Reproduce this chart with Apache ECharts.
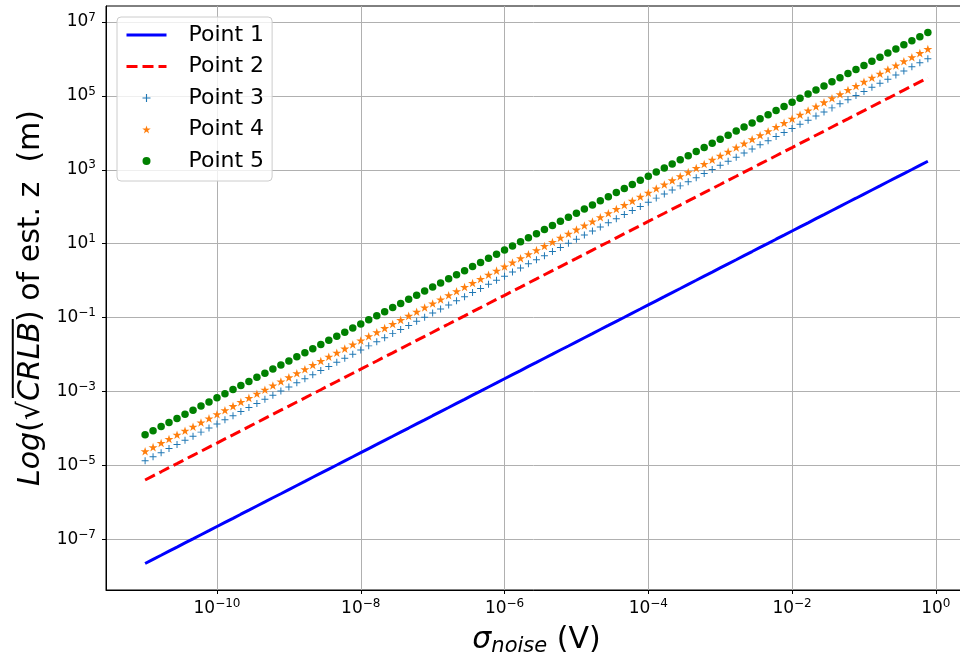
<!DOCTYPE html>
<html><head><meta charset="utf-8">
<script src="https://cdn.jsdelivr.net/npm/echarts@6/dist/echarts.min.js"></script>
<style>html,body{margin:0;padding:0;background:#fff}#c{width:960px;height:655px}</style>
</head><body><div id="c"></div>
<script>
const seriesNames = ['Point 1','Point 2','Point 3','Point 4','Point 5'];
const xTicks = [1e-10,1e-8,1e-6,1e-4,1e-2,1e0];
const yTicks = [1e-7,1e-5,1e-3,1e-1,1e1,1e3,1e5,1e7];

const xValues = [
1e-11,1.29e-11,1.67e-11,2.15e-11,2.78e-11,3.59e-11,4.64e-11,5.99e-11,7.74e-11,
1e-10,1.29e-10,1.67e-10,2.15e-10,2.78e-10,3.59e-10,4.64e-10,5.99e-10,7.74e-10,
1e-9,1.29e-9,1.67e-9,2.15e-9,2.78e-9,3.59e-9,4.64e-9,5.99e-9,7.74e-9,
1e-8,1.29e-8,1.67e-8,2.15e-8,2.78e-8,3.59e-8,4.64e-8,5.99e-8,7.74e-8,
1e-7,1.29e-7,1.67e-7,2.15e-7,2.78e-7,3.59e-7,4.64e-7,5.99e-7,7.74e-7,
1e-6,1.29e-6,1.67e-6,2.15e-6,2.78e-6,3.59e-6,4.64e-6,5.99e-6,7.74e-6,
1e-5,1.29e-5,1.67e-5,2.15e-5,2.78e-5,3.59e-5,4.64e-5,5.99e-5,7.74e-5,
1e-4,1.29e-4,1.67e-4,2.15e-4,2.78e-4,3.59e-4,4.64e-4,5.99e-4,7.74e-4,
1e-3,1.29e-3,1.67e-3,2.15e-3,2.78e-3,3.59e-3,4.64e-3,5.99e-3,7.74e-3,
1e-2,1.29e-2,1.67e-2,2.15e-2,2.78e-2,3.59e-2,4.64e-2,5.99e-2,7.74e-2,
1e-1,1.29e-1,1.67e-1,2.15e-1,2.78e-1,3.59e-1,4.64e-1,5.99e-1,7.74e-1];

const point1 = [
2.2e-8,2.84e-8,3.67e-8,4.74e-8,6.12e-8,7.91e-8,1.02e-7,1.32e-7,1.7e-7,
2.2e-7,2.84e-7,3.67e-7,4.74e-7,6.12e-7,7.91e-7,1.02e-6,1.32e-6,1.7e-6,
2.2e-6,2.84e-6,3.67e-6,4.74e-6,6.12e-6,7.91e-6,1.02e-5,1.32e-5,1.7e-5,
2.2e-5,2.84e-5,3.67e-5,4.74e-5,6.12e-5,7.91e-5,1.02e-4,1.32e-4,1.7e-4,
2.2e-4,2.84e-4,3.67e-4,4.74e-4,6.12e-4,7.91e-4,1.02e-3,1.32e-3,1.7e-3,
2.2e-3,2.84e-3,3.67e-3,4.74e-3,6.12e-3,7.91e-3,1.02e-2,1.32e-2,1.7e-2,
2.2e-2,2.84e-2,3.67e-2,4.74e-2,6.12e-2,7.91e-2,1.02e-1,1.32e-1,1.7e-1,
2.2e-1,2.84e-1,3.67e-1,4.74e-1,6.12e-1,7.91e-1,1.02,1.32,1.7,
2.2,2.84,3.67,4.74,6.12,7.91,10.2,13.2,17,
22,28.4,36.7,47.4,61.2,79.1,102,132,170,
220,284,367,474,612,791,1020,1320,1700];

const point2 = [
4e-6,5.17e-6,6.67e-6,8.62e-6,1.11e-5,1.44e-5,1.86e-5,2.4e-5,3.1e-5,
4e-5,5.17e-5,6.67e-5,8.62e-5,1.11e-4,1.44e-4,1.86e-4,2.4e-4,3.1e-4,
4e-4,5.17e-4,6.67e-4,8.62e-4,1.11e-3,1.44e-3,1.86e-3,2.4e-3,3.1e-3,
4e-3,5.17e-3,6.67e-3,8.62e-3,1.11e-2,1.44e-2,1.86e-2,2.4e-2,3.1e-2,
4e-2,5.17e-2,6.67e-2,8.62e-2,1.11e-1,1.44e-1,1.86e-1,2.4e-1,3.1e-1,
4e-1,5.17e-1,6.67e-1,8.62e-1,1.11,1.44,1.86,2.4,3.1,
4,5.17,6.67,8.62,11.1,14.4,18.6,24,31,
40,51.7,66.7,86.2,111,144,186,240,310,
400,517,667,862,1110,1440,1860,2400,3100,
4000,5170,6670,8620,1.11e4,1.44e4,1.86e4,2.4e4,3.1e4,
4e4,5.17e4,6.67e4,8.62e4,1.11e5,1.44e5,1.86e5,2.4e5,3.1e5];

const point3 = [
1.32e-5,1.71e-5,2.2e-5,2.84e-5,3.67e-5,4.74e-5,6.13e-5,7.91e-5,1.02e-4,
1.32e-4,1.71e-4,2.2e-4,2.84e-4,3.67e-4,4.74e-4,6.13e-4,7.91e-4,1.02e-3,
1.32e-3,1.71e-3,2.2e-3,2.84e-3,3.67e-3,4.74e-3,6.13e-3,7.91e-3,1.02e-2,
1.32e-2,1.71e-2,2.2e-2,2.84e-2,3.67e-2,4.74e-2,6.13e-2,7.91e-2,1.02e-1,
1.32e-1,1.71e-1,2.2e-1,2.84e-1,3.67e-1,4.74e-1,6.13e-1,7.91e-1,1.02,
1.32,1.71,2.2,2.84,3.67,4.74,6.13,7.91,10.2,
13.2,17.1,22,28.4,36.7,47.4,61.3,79.1,102,
132,171,220,284,367,474,613,791,1020,
1320,1710,2200,2840,3670,4740,6130,7910,1.02e4,
1.32e4,1.71e4,2.2e4,2.84e4,3.67e4,4.74e4,6.13e4,7.91e4,1.02e5,
1.32e5,1.71e5,2.2e5,2.84e5,3.67e5,4.74e5,6.13e5,7.91e5,1.02e6];

const point4 = [
2.4e-5,3.1e-5,4e-5,5.17e-5,6.68e-5,8.63e-5,1.11e-4,1.44e-4,1.86e-4,
2.4e-4,3.1e-4,4e-4,5.17e-4,6.68e-4,8.63e-4,1.11e-3,1.44e-3,1.86e-3,
2.4e-3,3.1e-3,4e-3,5.17e-3,6.68e-3,8.63e-3,1.11e-2,1.44e-2,1.86e-2,
2.4e-2,3.1e-2,4e-2,5.17e-2,6.68e-2,8.63e-2,1.11e-1,1.44e-1,1.86e-1,
2.4e-1,3.1e-1,4e-1,5.17e-1,6.68e-1,8.63e-1,1.11,1.44,1.86,
2.4,3.1,4,5.17,6.68,8.63,11.1,14.4,18.6,
24,31,40,51.7,66.8,86.3,111,144,186,
240,310,400,517,668,863,1110,1440,1860,
2400,3100,4000,5170,6680,8630,1.11e4,1.44e4,1.86e4,
2.4e4,3.1e4,4e4,5.17e4,6.68e4,8.63e4,1.11e5,1.44e5,1.86e5,
2.4e5,3.1e5,4e5,5.17e5,6.68e5,8.63e5,1.11e6,1.44e6,1.86e6];

const point5 = [
6.7e-5,8.65e-5,1.12e-4,1.44e-4,1.86e-4,2.41e-4,3.11e-4,4.02e-4,5.19e-4,
6.7e-4,8.65e-4,1.12e-3,1.44e-3,1.86e-3,2.41e-3,3.11e-3,4.02e-3,5.19e-3,
6.7e-3,8.65e-3,1.12e-2,1.44e-2,1.86e-2,2.41e-2,3.11e-2,4.02e-2,5.19e-2,
6.7e-2,8.65e-2,1.12e-1,1.44e-1,1.86e-1,2.41e-1,3.11e-1,4.02e-1,5.19e-1,
6.7e-1,8.65e-1,1.12,1.44,1.86,2.41,3.11,4.02,5.19,
6.7,8.65,11.2,14.4,18.6,24.1,31.1,40.2,51.9,
67,86.5,112,144,186,241,311,402,519,
670,865,1120,1440,1860,2410,3110,4020,5190,
6700,8650,1.12e4,1.44e4,1.86e4,2.41e4,3.11e4,4.02e4,5.19e4,
6.7e4,8.65e4,1.12e5,1.44e5,1.86e5,2.41e5,3.11e5,4.02e5,5.19e5,
6.7e5,8.65e5,1.12e6,1.44e6,1.86e6,2.41e6,3.11e6,4.02e6,5.19e6];

const F = 'DejaVu Sans';
function pairs(ys){ return xValues.map((x,i)=>[x, ys[i]]); }
function fmt(v){ const e = Math.round(Math.log10(v)); return '{b|10}{s|' + (e < 0 ? '\u2212' + (-e) : String(e)) + '}'; }
const tickRich = {
  b:{fontFamily:F,fontSize:17,color:'#000'},
  s:{fontFamily:F,fontSize:12,color:'#000',padding:[0,0,9,0]}
};
const plusPath = 'path://M0,0.43H1V0.57H0Z M0.43,0H0.57V1H0.43Z';
const starPath = 'path://M1,0L1.2245,0.691L1.951,0.691L1.363,1.118L1.588,1.809L1,1.382L0.412,1.809L0.637,1.118L0.049,0.691L0.7755,0.691Z';

const chart = echarts.init(document.getElementById('c'), null, {renderer:'canvas'});
chart.setOption({
  animation:false,
  backgroundColor:'#fff',
  grid:{left:106, top:6, width:861, height:584, show:true, borderColor:'#000', borderWidth:1,
        containLabel:false, outerBoundsMode:'none'},
  legend:{
    orient:'vertical', left:117, top:17,
    backgroundColor:'rgba(255,255,255,0.8)', borderColor:'#cccccc', borderWidth:1, borderRadius:4,
    padding:[7,8,9,8], itemGap:9.5, itemWidth:40, itemHeight:8,
    textStyle:{fontFamily:F, fontSize:22, color:'#000', lineHeight:22, padding:[0,0,0,17]},
    data:[
      {name:seriesNames[0], itemStyle:{color:'rgba(0,0,0,0)', opacity:0}, lineStyle:{width:3}},
      {name:seriesNames[1], itemStyle:{color:'rgba(0,0,0,0)', opacity:0}, lineStyle:{width:3}},
      {name:seriesNames[2]},
      {name:seriesNames[3]},
      {name:seriesNames[4]}
    ]
  },
  xAxis:{
    type:'log', logBase:10,
    min:Math.pow(10,-11.544), max:Math.pow(10,0.4333),
    axisLine:{show:true, lineStyle:{color:'#000', width:1}},
    axisTick:{show:true, inside:false, length:4, customValues:xTicks, lineStyle:{color:'#000'}},
    minorTick:{show:false},
    axisLabel:{customValues:xTicks, formatter:fmt, rich:tickRich, margin:8},
    splitLine:{show:true, lineStyle:{color:'#b0b0b0', width:1}},
    name:'{i|\u03C3}{sub|noise}{n| (V)}',
    nameLocation:'middle', nameGap:34,
    nameTextStyle:{fontFamily:F, color:'#000', rich:{
      i:{fontFamily:F, fontSize:30, fontStyle:'italic', color:'#000'},
      sub:{fontFamily:F, fontSize:21, fontStyle:'italic', color:'#000', padding:[12,0,0,0]},
      n:{fontFamily:F, fontSize:30, color:'#000'}
    }}
  },
  yAxis:{
    type:'log', logBase:10,
    min:Math.pow(10,-8.376), max:Math.pow(10,7.434),
    axisLine:{show:true, lineStyle:{color:'#000', width:1}},
    axisTick:{show:true, inside:false, length:4, customValues:yTicks, lineStyle:{color:'#000'}},
    minorTick:{show:false},
    axisLabel:{customValues:yTicks, formatter:fmt, rich:tickRich, margin:10},
    splitLine:{show:true, lineStyle:{color:'#b0b0b0', width:1}},
    name:'{sp| }{bar| }{sp2| }\n{i|Log}{n|(\u221A}{i|CRLB}{n|) of est. z  (m)}',
    nameLocation:'middle', nameGap:58, nameRotate:90,
    nameTextStyle:{fontFamily:F, color:'#000', rich:{
      sp:{width:91, height:2, fontSize:2, lineHeight:2},
      bar:{width:79, height:2, fontSize:2, lineHeight:2, backgroundColor:'#000'},
      sp2:{width:212, height:2, fontSize:2, lineHeight:2},
      i:{fontFamily:F, fontSize:30, fontStyle:'italic', color:'#000', lineHeight:34},
      n:{fontFamily:F, fontSize:30, color:'#000', lineHeight:34}
    }}
  },
  series:[
    {name:seriesNames[0], type:'line', data:pairs(point1), symbol:'none', showSymbol:false,
     lineStyle:{color:'#0000ff', width:3}, itemStyle:{color:'#0000ff'}},
    {name:seriesNames[1], type:'line', data:pairs(point2), symbol:'none', showSymbol:false,
     lineStyle:{color:'#ff0000', width:3, type:[11,5]}, itemStyle:{color:'#ff0000'}},
    {name:seriesNames[2], type:'scatter', data:pairs(point3), symbol:plusPath, symbolSize:7, symbolKeepAspect:true,
     itemStyle:{color:'#1f77b4', opacity:1}},
    {name:seriesNames[3], type:'scatter', data:pairs(point4), symbol:starPath, symbolSize:9, symbolKeepAspect:true,
     itemStyle:{color:'#ff7f0e', opacity:1}},
    {name:seriesNames[4], type:'scatter', data:pairs(point5), symbol:'circle', symbolSize:7.5,
     itemStyle:{color:'#008000', opacity:1}}
  ]
});
</script></body></html>
